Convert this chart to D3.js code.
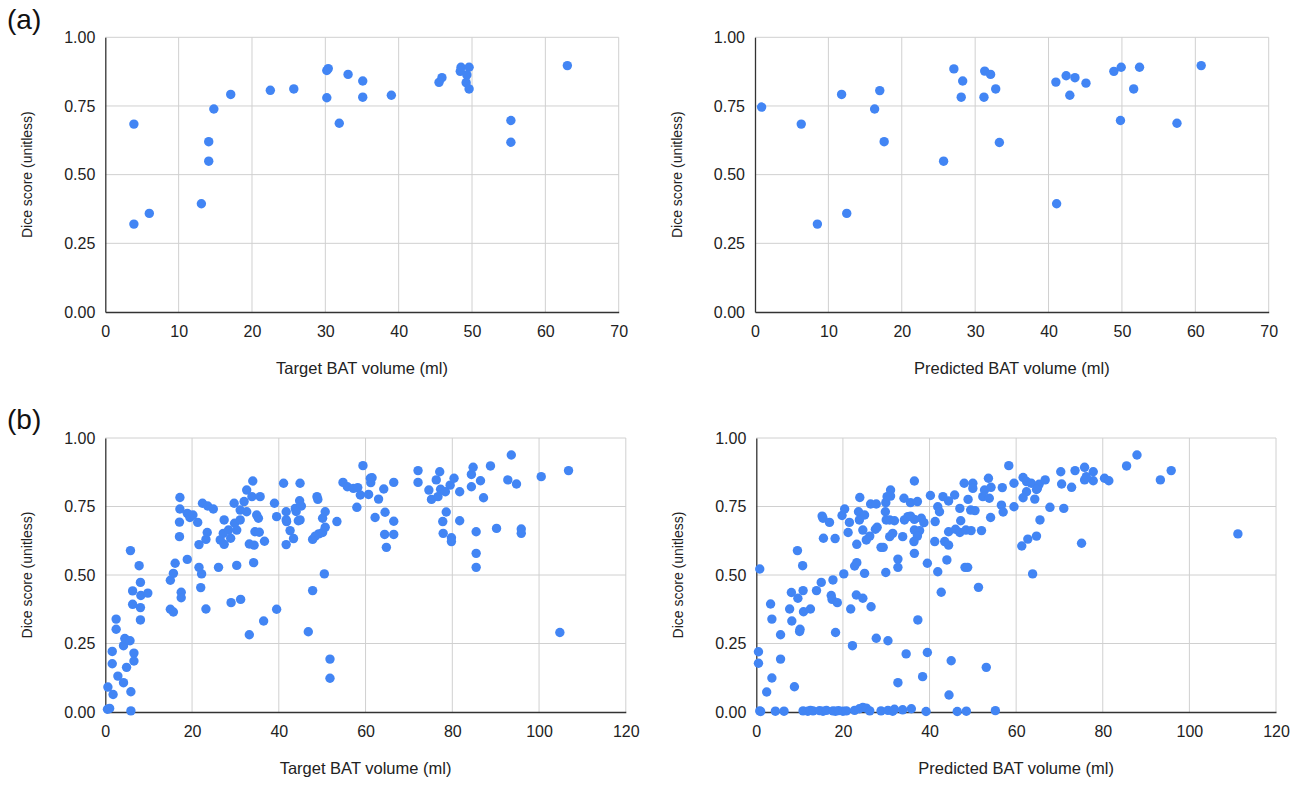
<!DOCTYPE html>
<html>
<head>
<meta charset="utf-8">
<script src="https://cdn.jsdelivr.net/npm/d3@7"></script>
<style>
  body { margin: 0; background: #fff; }
  svg { font-family: Arial, "Liberation Sans", sans-serif; }
</style>
</head>
<body>
<svg id="chart" width="1302" height="790"></svg>
<script>
// (a) target volume vs dice
const targetA = [
  [3.9, 0.684], [3.9, 0.320], [6.0, 0.359], [13.1, 0.394], [14.1, 0.620], [14.1, 0.549],
  [14.8, 0.739], [17.1, 0.792], [22.5, 0.807], [25.7, 0.812], [30.2, 0.879], [30.4, 0.886],
  [30.2, 0.780], [31.9, 0.687], [33.1, 0.865], [35.1, 0.841], [35.1, 0.782], [39.0, 0.789],
  [45.5, 0.836], [45.9, 0.853], [48.5, 0.891], [48.4, 0.876], [49.6, 0.891], [49.3, 0.863],
  [49.2, 0.835], [49.6, 0.812], [55.3, 0.697], [55.3, 0.618], [63.0, 0.897]
]

// (a) predicted volume vs dice
const predictedA = [
  [0.9, 0.746], [6.3, 0.684], [8.5, 0.320], [11.8, 0.792], [12.5, 0.359], [16.3, 0.739],
  [17.0, 0.806], [17.6, 0.620], [25.7, 0.549], [27.1, 0.885], [28.3, 0.841], [28.1, 0.782],
  [31.3, 0.877], [32.1, 0.865], [31.2, 0.782], [32.8, 0.812], [33.3, 0.617], [41.0, 0.837],
  [41.1, 0.394], [42.4, 0.860], [42.9, 0.789], [43.6, 0.853], [45.1, 0.833], [48.9, 0.876],
  [49.9, 0.891], [49.8, 0.697], [51.6, 0.812], [52.4, 0.891], [57.5, 0.687], [60.8, 0.897]
]

// (b) target volume vs dice
const targetB = [
  [0.5, 0.010], [1.0, 0.013], [5.9, 0.004], [0.6, 0.091], [1.8, 0.064], [5.9, 0.074],
  [2.9, 0.131], [4.2, 0.107], [4.9, 0.163], [1.6, 0.176], [1.6, 0.221], [6.6, 0.186],
  [6.6, 0.215], [4.2, 0.242], [4.5, 0.268], [5.7, 0.260], [2.5, 0.302], [2.5, 0.339],
  [8.1, 0.336], [6.3, 0.393], [8.1, 0.381], [6.3, 0.442], [8.2, 0.425], [8.1, 0.473],
  [9.8, 0.434], [7.8, 0.534], [5.8, 0.589],
  [15.0, 0.375], [15.7, 0.365], [15.0, 0.481], [15.7, 0.506], [16.1, 0.543], [17.5, 0.437],
  [17.5, 0.417], [18.9, 0.557], [17.1, 0.640], [17.1, 0.693], [17.2, 0.741], [17.2, 0.783],
  [18.9, 0.725], [19.5, 0.710], [20.2, 0.719], [21.3, 0.692], [22.0, 0.454], [23.2, 0.376],
  [21.6, 0.528], [22.2, 0.504], [21.6, 0.611], [23.2, 0.630], [23.5, 0.655], [22.4, 0.762],
  [23.6, 0.752], [24.9, 0.741], [26.1, 0.528], [26.5, 0.628], [27.4, 0.612], [27.4, 0.701],
  [27.2, 0.652], [28.4, 0.664], [28.9, 0.634], [29.7, 0.762], [29.0, 0.399], [31.2, 0.411],
  [30.3, 0.535], [29.8, 0.689], [30.3, 0.664], [31.1, 0.701], [32.0, 0.768], [31.1, 0.737],
  [32.6, 0.810], [32.6, 0.731], [33.2, 0.282], [34.0, 0.843], [33.8, 0.786], [35.7, 0.786],
  [33.2, 0.613], [34.3, 0.609], [34.2, 0.545], [34.5, 0.658], [35.3, 0.707], [35.5, 0.656],
  [34.9, 0.719], [36.5, 0.332], [36.7, 0.623], [39.0, 0.762], [39.5, 0.713], [39.5, 0.375],
  [41.1, 0.835], [41.7, 0.731], [41.7, 0.701], [41.8, 0.695], [42.6, 0.662], [43.4, 0.633],
  [41.7, 0.611], [43.8, 0.743], [44.8, 0.771], [45.2, 0.752], [44.0, 0.732], [44.9, 0.835],
  [44.9, 0.701], [44.5, 0.698], [47.8, 0.443], [46.8, 0.293], [47.8, 0.630], [48.4, 0.642],
  [49.2, 0.650], [50.1, 0.655], [50.7, 0.674], [50.1, 0.707], [50.7, 0.731], [48.8, 0.786],
  [49.0, 0.776], [50.5, 0.504], [51.8, 0.193], [51.8, 0.123], [53.4, 0.695], [54.8, 0.838],
  [55.8, 0.822], [57.2, 0.816], [58.2, 0.819], [58.8, 0.792], [58.0, 0.747], [59.4, 0.899],
  [61.1, 0.853], [61.5, 0.855], [60.7, 0.794], [61.2, 0.837], [63.0, 0.777], [64.2, 0.814],
  [62.2, 0.710], [64.5, 0.729], [66.5, 0.838], [66.5, 0.696], [64.4, 0.648], [66.5, 0.648],
  [64.8, 0.601], [72.1, 0.881], [72.1, 0.838], [74.6, 0.810], [75.2, 0.776], [76.3, 0.847],
  [77.1, 0.877], [76.7, 0.786], [77.3, 0.813], [78.4, 0.804], [78.6, 0.730], [77.8, 0.695],
  [77.9, 0.652], [79.5, 0.828],
  [80.4, 0.853], [81.7, 0.804], [79.8, 0.636], [79.8, 0.622], [81.7, 0.698], [84.4, 0.867],
  [84.8, 0.893], [84.4, 0.822], [86.5, 0.844], [87.2, 0.782], [85.5, 0.658], [85.5, 0.579],
  [85.5, 0.528], [88.8, 0.898], [90.2, 0.670], [92.8, 0.847], [93.6, 0.938], [94.8, 0.832],
  [95.9, 0.668], [95.9, 0.652], [100.5, 0.859], [104.8, 0.290], [106.8, 0.881]
]

// (b) predicted volume vs dice
const predictedB = [
  // near-zero dice
  [0.8, 0.004], [1.0, 0.002], [4.4, 0.003], [6.4, 0.003], [10.8, 0.004], [11.9, 0.003],
  [12.5, 0.006], [13.1, 0.004], [14.6, 0.005], [15.4, 0.003], [16.2, 0.006], [17.7, 0.004],
  [18.3, 0.003], [19.0, 0.005], [20.0, 0.003], [20.8, 0.004], [22.7, 0.006], [23.8, 0.012],
  [24.6, 0.017], [25.4, 0.014], [26.2, 0.004], [28.8, 0.004], [30.4, 0.006], [31.5, 0.003],
  [31.9, 0.010], [33.8, 0.008], [35.8, 0.012], [39.2, 0.002], [46.4, 0.002], [48.5, 0.003],
  [55.2, 0.005],
  [0.8, 0.522], [0.5, 0.220], [0.5, 0.178], [2.4, 0.073], [3.6, 0.124], [3.3, 0.394],
  [3.6, 0.339], [5.6, 0.282], [5.6, 0.193], [8.8, 0.092], [8.1, 0.436], [7.7, 0.376],
  [8.2, 0.332], [9.5, 0.589], [9.6, 0.415], [10.1, 0.302], [10.0, 0.294], [10.7, 0.534],
  [10.8, 0.443], [10.9, 0.366], [12.5, 0.376], [13.9, 0.443], [15.0, 0.473], [15.2, 0.715],
  [15.4, 0.707], [16.9, 0.692], [15.5, 0.634], [17.3, 0.425], [17.5, 0.411], [17.7, 0.482],
  [18.7, 0.399], [18.2, 0.633], [18.3, 0.290], [19.8, 0.717], [20.4, 0.741], [20.2, 0.504],
  [21.2, 0.655], [21.5, 0.692], [21.8, 0.376], [22.2, 0.242], [22.7, 0.533], [23.2, 0.545],
  [23.2, 0.612], [23.1, 0.427], [24.6, 0.415], [25.0, 0.506], [23.9, 0.783], [23.6, 0.731],
  [23.8, 0.701], [24.6, 0.664], [25.0, 0.719], [25.4, 0.628], [26.4, 0.759], [27.7, 0.759],
  [26.2, 0.642], [26.5, 0.384], [27.7, 0.269], [27.5, 0.667], [27.9, 0.674], [28.8, 0.601],
  [29.9, 0.764], [30.2, 0.786], [31.0, 0.810], [31.0, 0.788], [29.8, 0.731], [30.0, 0.701],
  [30.8, 0.701], [31.9, 0.698], [30.8, 0.640], [31.5, 0.652], [29.3, 0.601], [33.8, 0.640],
  [32.7, 0.558], [32.7, 0.528], [29.9, 0.509], [30.4, 0.260], [34.1, 0.780], [35.6, 0.764],
  [37.2, 0.768], [34.2, 0.701], [35.0, 0.713], [36.5, 0.703], [38.1, 0.707], [38.7, 0.691],
  [35.6, 0.715], [36.5, 0.664], [37.7, 0.662], [37.2, 0.642], [36.4, 0.622], [36.5, 0.579],
  [36.5, 0.843], [34.6, 0.212], [32.7, 0.107], [37.3, 0.336], [38.4, 0.129], [39.5, 0.217],
  [39.5, 0.543], [40.2, 0.790], [41.3, 0.695], [41.2, 0.622], [41.9, 0.749], [42.3, 0.731],
  [41.9, 0.512], [42.7, 0.437], [43.1, 0.786], [44.4, 0.770], [43.5, 0.622], [44.4, 0.609],
  [44.0, 0.555], [45.0, 0.187], [44.5, 0.062], [44.4, 0.658], [45.8, 0.792], [46.0, 0.667],
  [47.0, 0.743], [47.2, 0.698], [47.0, 0.655], [48.0, 0.835], [48.9, 0.776], [48.2, 0.528],
  [48.8, 0.528], [48.4, 0.664], [49.5, 0.737], [50.0, 0.835], [50.0, 0.816], [49.6, 0.662],
  [50.5, 0.735], [51.3, 0.455], [52.0, 0.662], [53.1, 0.163], [52.3, 0.786], [52.7, 0.810],
  [53.6, 0.853], [53.8, 0.780], [54.1, 0.710], [54.2, 0.820],
  [58.3, 0.899], [56.8, 0.819], [59.5, 0.835], [56.6, 0.755], [57.0, 0.730], [59.5, 0.749],
  [61.6, 0.856], [62.4, 0.841], [63.5, 0.835], [65.3, 0.831], [64.9, 0.816], [62.4, 0.804],
  [61.6, 0.782], [64.3, 0.777], [64.7, 0.812], [66.7, 0.847], [67.8, 0.747], [65.5, 0.701],
  [64.7, 0.642], [62.7, 0.631], [61.3, 0.606], [63.8, 0.504], [70.3, 0.877], [70.5, 0.832],
  [71.0, 0.743], [72.8, 0.820], [73.6, 0.881], [75.1, 0.616], [75.8, 0.893], [75.8, 0.847],
  [77.8, 0.877], [77.8, 0.844], [76.2, 0.859], [80.4, 0.853], [81.4, 0.844], [85.5, 0.898],
  [87.9, 0.938], [93.3, 0.847], [95.8, 0.881], [111.2, 0.650]
]

const diceTicks = [0, 0.25, 0.5, 0.75, 1]
const ticksA = [0, 10, 20, 30, 40, 50, 60, 70]
const ticksB = [0, 20, 40, 60, 80, 100, 120]

const panels = [
  { data: targetA, ticks: ticksA, title: 'Target BAT volume (ml)', left: 105.3, right: 618.7, top: 37.3, bottom: 312 },
  { data: predictedA, ticks: ticksA, title: 'Predicted BAT volume (ml)', left: 755, right: 1268.7, top: 37.3, bottom: 312 },
  { data: targetB, ticks: ticksB, title: 'Target BAT volume (ml)', left: 105.3, right: 625.8, top: 438, bottom: 712 },
  { data: predictedB, ticks: ticksB, title: 'Predicted BAT volume (ml)', left: 756.3, right: 1276, top: 438, bottom: 712 }
]

const svg = d3.select('#chart')

panels.forEach(p => {
  const x = d3.scaleLinear().domain([0, d3.max(p.ticks)]).range([p.left, p.right])
  const y = d3.scaleLinear().domain([0, 1]).range([p.bottom, p.top])
  const g = svg.append('g')

  // grid
  g.selectAll('.vgrid').data(p.ticks.slice(1)).enter().append('line')
    .attr('x1', d => x(d)).attr('x2', d => x(d))
    .attr('y1', p.top).attr('y2', p.bottom)
    .attr('stroke', '#d0d0d0').attr('stroke-width', 1)
  g.selectAll('.hgrid').data(diceTicks.slice(1)).enter().append('line')
    .attr('x1', p.left).attr('x2', p.right)
    .attr('y1', d => y(d)).attr('y2', d => y(d))
    .attr('stroke', '#d0d0d0').attr('stroke-width', 1)

  // axes
  const xAxis = g.append('g')
    .attr('transform', `translate(0,${p.bottom})`)
    .call(d3.axisBottom(x).tickValues(p.ticks).tickSize(0).tickPadding(14).tickFormat(d3.format('d')))
  const yAxis = g.append('g')
    .attr('transform', `translate(${p.left},0)`)
    .call(d3.axisLeft(y).tickValues(diceTicks).tickSize(0).tickPadding(10).tickFormat(d3.format('.2f')))
  ;[xAxis, yAxis].forEach(a => {
    a.select('.domain').attr('stroke', '#333').attr('stroke-width', 1.3)
    a.selectAll('text').attr('font-size', 16).attr('fill', '#222')
      .attr('font-family', 'Arial, "Liberation Sans", sans-serif')
  })

  // axis titles
  g.append('text')
    .attr('x', (p.left + p.right) / 2)
    .attr('y', p.bottom + 62)
    .attr('text-anchor', 'middle')
    .attr('font-size', 16.5)
    .attr('fill', '#222')
    .text(p.title)
  g.append('text')
    .attr('transform', `translate(${p.left - 73},${(p.top + p.bottom) / 2}) rotate(-90)`)
    .attr('text-anchor', 'middle')
    .attr('font-size', 14)
    .attr('fill', '#222')
    .text('Dice score (unitless)')

  // points
  g.selectAll('circle').data(p.data).enter().append('circle')
    .attr('cx', d => x(d[0]))
    .attr('cy', d => y(d[1]))
    .attr('r', 4.7)
    .attr('fill', '#4285f4')
})

svg.append('text').attr('x', 7).attr('y', 29).attr('font-size', 28).attr('fill', '#111').text('(a)')
svg.append('text').attr('x', 7).attr('y', 429).attr('font-size', 28).attr('fill', '#111').text('(b)')
</script>
</body>
</html>
